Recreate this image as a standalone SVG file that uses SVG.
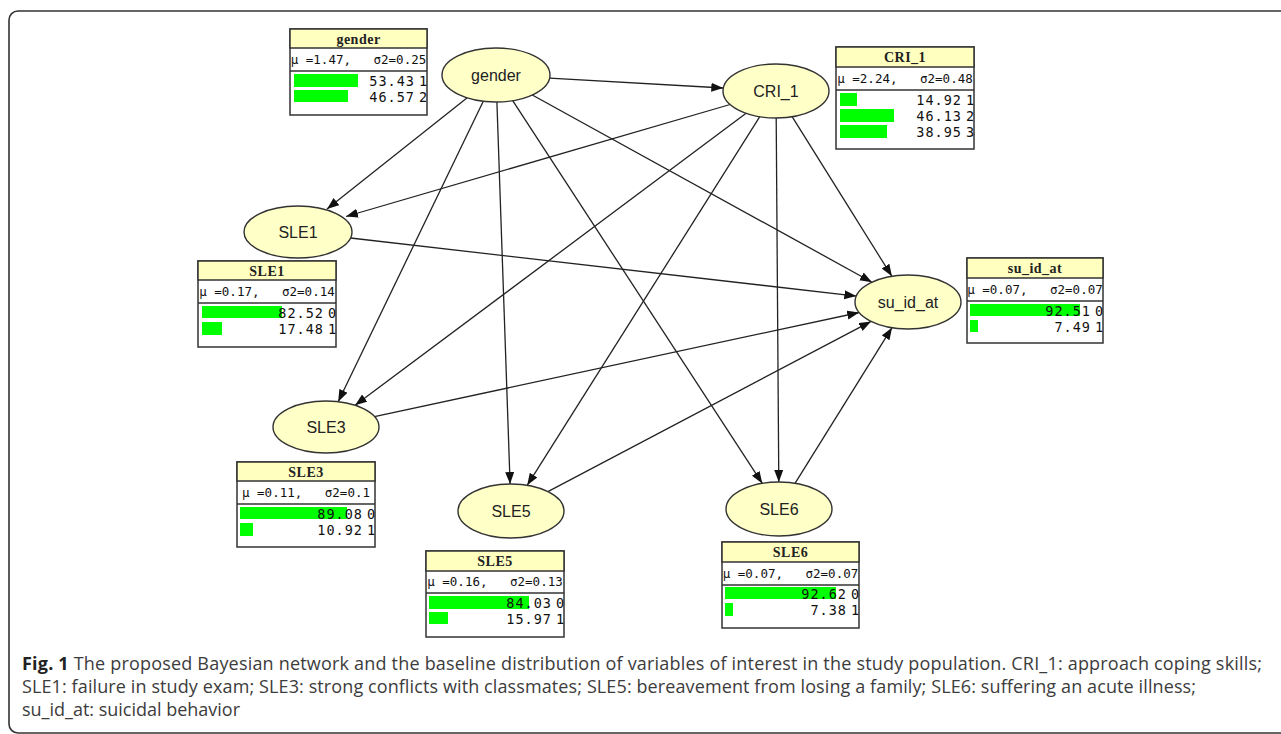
<svg xmlns="http://www.w3.org/2000/svg" width="1281" height="734" viewBox="0 0 1281 734" xml:space="preserve">
<defs>
<marker id="arr" markerWidth="13" markerHeight="10" refX="12" refY="4.5" orient="auto" markerUnits="userSpaceOnUse">
<path d="M0,0 L12,4.5 L0,9 z" fill="#111"/>
</marker>
</defs>
<style>
.ell{fill:#FFFFC8;stroke:#333;stroke-width:1.4}
.lbl{font-family:"Liberation Sans",Arial,sans-serif;font-size:16px;fill:#222;text-anchor:middle}
.box{fill:#fff;stroke:#333;stroke-width:1.5}
.hdr{fill:#FFFFC0;stroke:#333;stroke-width:1.5}
.sep{stroke:#333;stroke-width:1.5}
.ttl{font-family:"Liberation Serif","Times New Roman",serif;font-size:14px;font-weight:bold;fill:#222;text-anchor:middle;letter-spacing:0.5px}
.st{font-family:"DejaVu Sans Mono",monospace;font-size:12.5px;fill:#111;text-anchor:middle;white-space:pre}
.val{font-family:"DejaVu Sans Mono",monospace;font-size:13.5px;fill:#111;text-anchor:end;letter-spacing:1px}
.idx{font-family:"DejaVu Sans Mono",monospace;font-size:13.5px;fill:#111}
.bar{fill:#00FF00}
.edge{stroke:#222;stroke-width:1.3;fill:none;marker-end:url(#arr)}
.cap{font-family:"Open Sans","Noto Sans",sans-serif;font-size:18px;fill:#3c3c3c}
</style>
<rect x="0" y="0" width="1281" height="734" fill="#fff"/>
<rect id="frame" x="9" y="11" width="1300" height="722" rx="9" fill="none" stroke="#333" stroke-width="1.6"/>

<g id="edges">
<line class="edge" x1="549.6" y1="78.1" x2="723.3" y2="88"/>
<line class="edge" x1="467.2" y1="97.8" x2="327" y2="209"/>
<line class="edge" x1="483.3" y1="101.3" x2="338.2" y2="401.7"/>
<line class="edge" x1="496.9" y1="102" x2="510.1" y2="484"/>
<line class="edge" x1="512.7" y1="100.7" x2="762.3" y2="483.4"/>
<line class="edge" x1="532.3" y1="95" x2="872" y2="282.2"/>
<line class="edge" x1="730.1" y1="104.5" x2="346" y2="216.5"/>
<line class="edge" x1="746.1" y1="113.3" x2="355.1" y2="405.3"/>
<line class="edge" x1="759.8" y1="116.7" x2="527.2" y2="485.3"/>
<line class="edge" x1="776.2" y1="118" x2="778.8" y2="482"/>
<line class="edge" x1="792.1" y1="116.7" x2="891.9" y2="276.3"/>
<line class="edge" x1="350.5" y1="238" x2="856.3" y2="296.1"/>
<line class="edge" x1="374.5" y1="416.6" x2="859.2" y2="312.5"/>
<line class="edge" x1="547.9" y1="491.6" x2="871.1" y2="321.4"/>
<line class="edge" x1="795" y1="483.3" x2="892" y2="327.7"/>
</g>

<g id="node-gender">
<ellipse class="ell" cx="496" cy="75" rx="54" ry="27"/>
<text class="lbl" x="496" y="81">gender</text>
<rect class="box" x="290" y="29" width="137" height="86"/>
<rect class="hdr" x="290" y="29" width="137" height="19"/>
<line class="sep" x1="290" y1="71" x2="427" y2="71"/>
<text class="ttl" x="358.5" y="44">gender</text>
<text class="st" x="358.5" y="64">μ =1.47,   σ2=0.25</text>
<rect class="bar" x="294" y="74" width="64" height="13"/>
<rect class="bar" x="294" y="90" width="54" height="12"/>
<text class="val" x="415" y="86">53.43</text><text class="idx" x="419" y="86">1</text>
<text class="val" x="415" y="102">46.57</text><text class="idx" x="419" y="102">2</text>
</g>

<g id="node-CRI_1">
<ellipse class="ell" cx="776" cy="91" rx="53" ry="27"/>
<text class="lbl" x="776" y="97">CRI_1</text>
<rect class="box" x="836" y="47" width="138" height="102"/>
<rect class="hdr" x="836" y="47" width="138" height="20"/>
<line class="sep" x1="836" y1="90" x2="974" y2="90"/>
<text class="ttl" x="905" y="62">CRI_1</text>
<text class="st" x="905" y="83">μ =2.24,   σ2=0.48</text>
<rect class="bar" x="840" y="93" width="17" height="13"/>
<rect class="bar" x="840" y="109" width="54" height="13"/>
<rect class="bar" x="840" y="125" width="47" height="13"/>
<text class="val" x="962" y="105">14.92</text><text class="idx" x="966" y="105">1</text>
<text class="val" x="962" y="121">46.13</text><text class="idx" x="966" y="121">2</text>
<text class="val" x="962" y="137">38.95</text><text class="idx" x="966" y="137">3</text>
</g>

<g id="node-SLE1">
<ellipse class="ell" cx="298" cy="232" rx="54" ry="26"/>
<text class="lbl" x="298" y="238">SLE1</text>
<rect class="box" x="198" y="261" width="138" height="86"/>
<rect class="hdr" x="198" y="261" width="138" height="19"/>
<line class="sep" x1="198" y1="303" x2="336" y2="303"/>
<text class="ttl" x="267" y="276">SLE1</text>
<text class="st" x="267" y="296">μ =0.17,   σ2=0.14</text>
<rect class="bar" x="202" y="306" width="80" height="12"/>
<rect class="bar" x="202" y="322" width="20" height="13"/>
<text class="val" x="324" y="318">82.52</text><text class="idx" x="328" y="318">0</text>
<text class="val" x="324" y="334">17.48</text><text class="idx" x="328" y="334">1</text>
</g>

<g id="node-su_id_at">
<ellipse class="ell" cx="908" cy="302" rx="53" ry="27"/>
<text class="lbl" x="908" y="308">su_id_at</text>
<rect class="box" x="967" y="258" width="136" height="85"/>
<rect class="hdr" x="967" y="258" width="136" height="20"/>
<line class="sep" x1="967" y1="301" x2="1103" y2="301"/>
<text class="ttl" x="1035" y="273">su_id_at</text>
<text class="st" x="1035" y="294">μ =0.07,   σ2=0.07</text>
<rect class="bar" x="970" y="304" width="110" height="12"/>
<rect class="bar" x="970" y="320" width="8" height="12"/>
<text class="val" x="1091" y="316">92.51</text><text class="idx" x="1095" y="316">0</text>
<text class="val" x="1091" y="332">7.49</text><text class="idx" x="1095" y="332">1</text>
</g>

<g id="node-SLE3">
<ellipse class="ell" cx="326" cy="427" rx="53" ry="26"/>
<text class="lbl" x="326" y="433">SLE3</text>
<rect class="box" x="237" y="462" width="138" height="85"/>
<rect class="hdr" x="237" y="462" width="138" height="19"/>
<line class="sep" x1="237" y1="504" x2="375" y2="504"/>
<text class="ttl" x="306" y="477">SLE3</text>
<text class="st" x="306" y="497">μ =0.11,   σ2=0.1</text>
<rect class="bar" x="240" y="507" width="107" height="12"/>
<rect class="bar" x="240" y="523" width="13" height="13"/>
<text class="val" x="363" y="519">89.08</text><text class="idx" x="367" y="519">0</text>
<text class="val" x="363" y="535">10.92</text><text class="idx" x="367" y="535">1</text>
</g>

<g id="node-SLE5">
<ellipse class="ell" cx="511" cy="511" rx="53" ry="27"/>
<text class="lbl" x="511" y="517">SLE5</text>
<rect class="box" x="426" y="551" width="138" height="86"/>
<rect class="hdr" x="426" y="551" width="138" height="20"/>
<line class="sep" x1="426" y1="593" x2="564" y2="593"/>
<text class="ttl" x="495" y="566">SLE5</text>
<text class="st" x="495" y="586">μ =0.16,   σ2=0.13</text>
<rect class="bar" x="429" y="596" width="100" height="13"/>
<rect class="bar" x="429" y="612" width="19" height="12"/>
<text class="val" x="552" y="608">84.03</text><text class="idx" x="556" y="608">0</text>
<text class="val" x="552" y="624">15.97</text><text class="idx" x="556" y="624">1</text>
</g>

<g id="node-SLE6">
<ellipse class="ell" cx="779" cy="509" rx="53" ry="27"/>
<text class="lbl" x="779" y="515">SLE6</text>
<rect class="box" x="722" y="542" width="137" height="86"/>
<rect class="hdr" x="722" y="542" width="137" height="20"/>
<line class="sep" x1="722" y1="585" x2="859" y2="585"/>
<text class="ttl" x="790.5" y="557">SLE6</text>
<text class="st" x="790.5" y="578">μ =0.07,   σ2=0.07</text>
<rect class="bar" x="725" y="587" width="111" height="12"/>
<rect class="bar" x="725" y="603" width="8" height="13"/>
<text class="val" x="847" y="599">92.62</text><text class="idx" x="851" y="599">0</text>
<text class="val" x="847" y="615">7.38</text><text class="idx" x="851" y="615">1</text>
</g>

<g id="caption">
<text class="cap" x="22" y="670" textLength="1240" lengthAdjust="spacing"><tspan font-weight="bold" fill="#222">Fig. 1</tspan> The proposed Bayesian network and the baseline distribution of variables of interest in the study population. CRI_1: approach coping skills;</text>
<text class="cap" x="22" y="693" textLength="1174" lengthAdjust="spacing">SLE1: failure in study exam; SLE3: strong conflicts with classmates; SLE5: bereavement from losing a family; SLE6: suffering an acute illness;</text>
<text class="cap" x="22" y="716" textLength="218" lengthAdjust="spacing">su_id_at: suicidal behavior</text>
</g>
</svg>
